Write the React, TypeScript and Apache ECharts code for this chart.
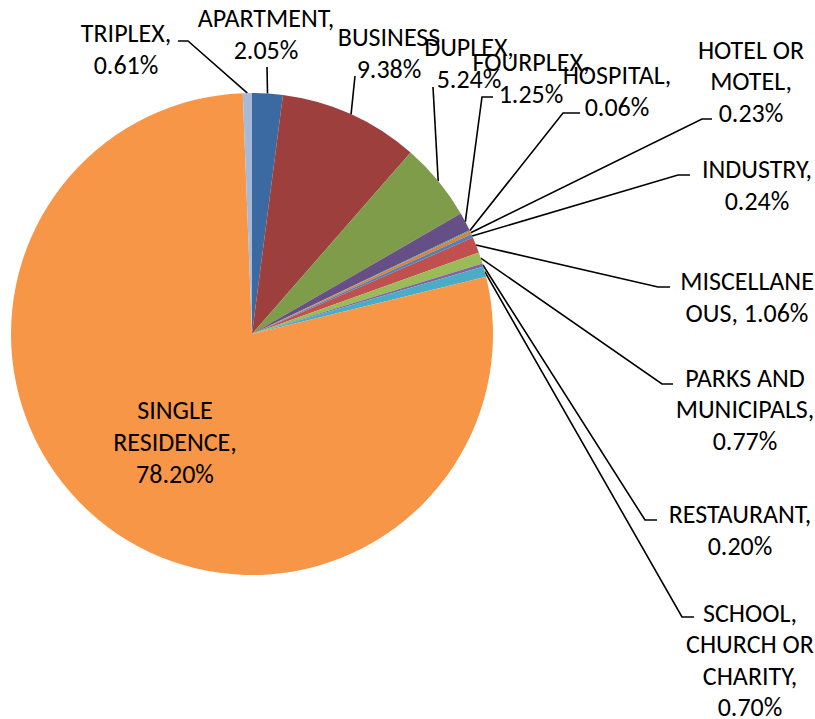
import React, { useEffect, useRef } from "react";
import * as echarts from "echarts";

const categories = [
  "APARTMENT",
  "BUSINESS",
  "DUPLEX",
  "FOURPLEX",
  "HOSPITAL",
  "HOTEL OR MOTEL",
  "INDUSTRY",
  "MISCELLANEOUS",
  "PARKS AND MUNICIPALS",
  "RESTAURANT",
  "SCHOOL, CHURCH OR CHARITY",
  "SINGLE RESIDENCE",
  "TRIPLEX",
];

const shares = [2.05, 9.38, 5.24, 1.25, 0.06, 0.23, 0.24, 1.06, 0.77, 0.2, 0.7, 78.2, 0.61];

const colors = [
  "#3B69A1",
  "#9D403D",
  "#7E9C49",
  "#664F86",
  "#3A9AB1",
  "#D98330",
  "#4F81BD",
  "#C0504D",
  "#9BBB59",
  "#8064A2",
  "#4BACC6",
  "#F79646",
  "#A8BAD9",
];

// how each label's text is wrapped (layout only)
const labelWrap: string[][] = [
  ["APARTMENT,", "{v}"],
  ["BUSINESS", "{v}"],
  ["DUPLEX,", "{v}"],
  ["FOURPLEX,", "{v}"],
  ["HOSPITAL,", "{v}"],
  ["HOTEL OR", "MOTEL,", "{v}"],
  ["INDUSTRY,", "{v}"],
  ["MISCELLANE", "OUS, {v}"],
  ["PARKS AND", "MUNICIPALS,", "{v}"],
  ["RESTAURANT,", "{v}"],
  ["SCHOOL,", "CHURCH OR", "CHARITY,", "{v}"],
  ["SINGLE", "RESIDENCE,", "{v}"],
  ["TRIPLEX,", "{v}"],
];

// label centres and leader-line elbows (layout only)
const labelPos: { x: number; y: number; elbow: number[][] }[] = [
  { x: 266, y: 34, elbow: [[267, 67]] },
  { x: 389, y: 53, elbow: [[355, 76]] },
  { x: 469, y: 63, elbow: [[433, 87]] },
  { x: 531, y: 78, elbow: [[482, 97], [493, 97]] },
  { x: 617, y: 91, elbow: [[563, 113], [580, 113]] },
  { x: 751, y: 81, elbow: [[702, 119], [712, 119]] },
  { x: 757, y: 185, elbow: [[678, 175], [690, 175]] },
  { x: 747, y: 297, elbow: [[658, 287], [670, 287]] },
  { x: 745, y: 409, elbow: [[662, 384], [673, 384]] },
  { x: 740, y: 530, elbow: [[645, 520], [657, 520]] },
  { x: 750, y: 660, elbow: [[682, 617], [694, 617]] },
  { x: 175, y: 442, elbow: [] },
  { x: 126, y: 49, elbow: [[188, 41], [178, 41]] },
];

export default function App() {
  const ref = useRef<HTMLDivElement>(null);
  useEffect(() => {
    if (!ref.current) return;
    const chart = echarts.init(ref.current, undefined, { renderer: "svg" });
    const data = categories.map((name, i) => ({
      name,
      value: shares[i],
      itemStyle: { color: colors[i] },
      label: i === 11 ? { position: "inside", lineHeight: 32 } : undefined,
      labelLine: i === 11 ? { show: false } : undefined,
    }));
    chart.setOption({
      animation: false,
      backgroundColor: "#ffffff",
      series: [
        {
          type: "pie",
          center: [252, 334],
          radius: 241,
          startAngle: 90,
          clockwise: true,
          avoidLabelOverlap: false,
          data,
          itemStyle: { borderWidth: 0 },
          label: {
            show: true,
            position: "outside",
            fontFamily: "Carlito, 'Open Sans', sans-serif",
            fontSize: 26,
            lineHeight: 31.5,
            color: "#000000",
            align: "center",
            formatter: (p: any) =>
              labelWrap[p.dataIndex]
                .map((s) => s.replace("{v}", Number(p.value).toFixed(2) + "%"))
                .join("\n"),
          },
          labelLine: {
            show: true,
            lineStyle: { color: "#000000", width: 1.6 },
          },
          labelLayout: (params: any) => {
            const lp = labelPos[params.dataIndex];
            const res: any = {
              x: lp.x,
              y: lp.y,
              align: "center",
              verticalAlign: "middle",
              hideOverlap: false,
            };
            if (lp.elbow.length && params.labelLinePoints) {
              const start = params.labelLinePoints[0];
              const pts = [start, ...lp.elbow];
              if (pts.length === 2) pts.push(lp.elbow[0]);
              res.labelLinePoints = pts;
            }
            return res;
          },
        },
      ],
    });
    return () => chart.dispose();
  }, []);
  return (
    <div
      ref={ref}
      style={{ position: "fixed", left: 0, top: 0, width: 815, height: 719 }}
    />
  );
}
